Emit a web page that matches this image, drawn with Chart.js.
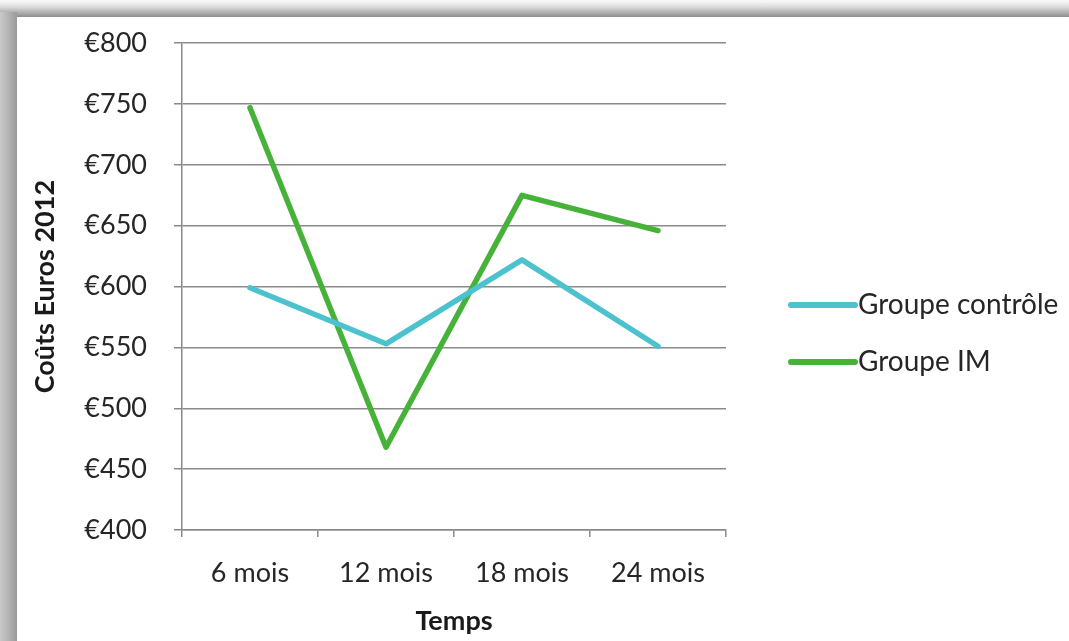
<!DOCTYPE html>
<html>
<head>
<meta charset="utf-8">
<script src="https://cdn.jsdelivr.net/npm/chart.js@4"></script>
<style>
  html, body { margin: 0; padding: 0; background: #ffffff; }
  #wrap { position: relative; width: 1069px; height: 641px; overflow: hidden; background: #fff; }
  #topband { position: absolute; left: 0; top: 0; width: 1069px; height: 17px;
    background: linear-gradient(to bottom, #fbfbfb 0%, #e2e2e2 35%, #b4b4b4 70%, #8e8e8e 100%); }
  #leftband { position: absolute; left: 0; top: 12px; width: 17px; height: 629px;
    background: linear-gradient(to right, #c9c9c9 0%, #b3b3b3 50%, #9a9a9a 100%); }
  canvas { position: absolute; left: 0; top: 0; }
</style>
</head>
<body>
<div id="wrap">
  <div id="topband"></div>
  <div id="leftband"></div>
  <canvas id="c" width="1069" height="641"></canvas>
</div>
<script>
const categories = ['6 mois', '12 mois', '18 mois', '24 mois'];
const seriesNames = ['Groupe contrôle', 'Groupe IM'];
const controleValues = [599, 553, 622, 551];
const imValues = [747, 468, 675, 646];
const yTickValues = [400, 450, 500, 550, 600, 650, 700, 750, 800];
const yTickLabels = ['€400', '€450', '€500', '€550', '€600', '€650', '€700', '€750', '€800'];
const yAxisTitle = 'Coûts Euros 2012';
const xAxisTitle = 'Temps';

const FONT = 'Lato, "Open Sans", sans-serif';
const GRID = '#8a8a8a';

const legendPlugin = {
  id: 'excelLegend',
  afterDraw(chart) {
    const ctx = chart.ctx;
    const items = [{ y: 305 }, { y: 362 }];
    ctx.save();
    chart.data.datasets.forEach((ds, i) => {
      const y = items[i].y;
      ctx.strokeStyle = ds.borderColor;
      ctx.lineWidth = 6;
      ctx.lineCap = 'round';
      ctx.beginPath();
      ctx.moveTo(791, y);
      ctx.lineTo(855, y);
      ctx.stroke();
      ctx.fillStyle = '#262626';
      ctx.font = '28px ' + FONT;
      ctx.textBaseline = 'middle';
      ctx.textAlign = 'left';
      ctx.fillText(ds.label, 858, y);
    });
    ctx.restore();
  }
};

new Chart(document.getElementById('c'), {
  type: 'line',
  data: {
    labels: categories,
    datasets: [
      { label: seriesNames[0], data: controleValues, borderColor: '#4cc2cf', backgroundColor: '#4cc2cf' },
      { label: seriesNames[1], data: imValues, borderColor: '#46b23a', backgroundColor: '#46b23a' }
    ]
  },
  options: {
    responsive: false,
    animation: false,
    layout: { padding: { left: 20, right: 343, top: 41, bottom: 0 } },
    elements: {
      line: { borderWidth: 5.5, tension: 0, borderJoinStyle: 'round', borderCapStyle: 'round' },
      point: { radius: 0, hoverRadius: 0 }
    },
    plugins: {
      legend: { display: false },
      tooltip: { enabled: false }
    },
    scales: {
      x: {
        type: 'category',
        offset: true,
        grid: { offset: true, drawOnChartArea: false, drawTicks: true, tickLength: 7, color: GRID, lineWidth: 1.5 },
        border: { color: GRID, width: 1.5 },
        ticks: { color: '#262626', font: { family: FONT, size: 27 }, padding: 20 },
        title: { display: true, text: xAxisTitle, color: '#1a1a1a', font: { family: FONT, size: 27, weight: 'bold' }, padding: { top: 0, bottom: 4 } },
        afterFit(scale) { scale.height = 111; }
      },
      y: {
        min: 400, max: 800,
        afterBuildTicks(scale) { scale.ticks = yTickValues.map(v => ({ value: v })); },
        grid: { color: GRID, lineWidth: 1.5, tickLength: 8 },
        border: { color: GRID, width: 1.5 },
        ticks: {
          color: '#262626', font: { family: FONT, size: 27 }, padding: 27,
          callback: (v) => yTickLabels[yTickValues.indexOf(v)]
        },
        title: { display: true, text: yAxisTitle, color: '#1a1a1a', font: { family: FONT, size: 27, weight: 'bold' }, padding: { top: 9, bottom: 0 } },
        afterFit(scale) { scale.width = 162; }
      }
    }
  },
  plugins: [legendPlugin]
});
</script>
</body>
</html>
